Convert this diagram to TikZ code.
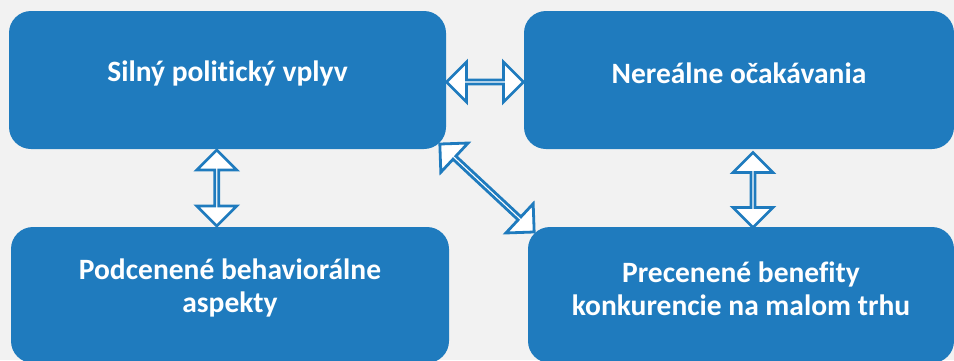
\documentclass[tikz,border=0pt]{standalone}
\usepackage{fontspec}
\setmainfont{Carlito}[Ligatures=NoCommon]
\usepackage{xcolor}
\usetikzlibrary{shapes.arrows,calc}
\definecolor{boxblue}{HTML}{1F7BBE}
\definecolor{bggray}{HTML}{F2F2F2}
\tikzset{
    box/.style={fill=boxblue, rounded corners=22pt},
    boxtext/.style={text=white, align=center, yshift=7pt,
        font=\fontsize{29.5}{33}\selectfont\bfseries},
    dblarrow/.style={double arrow, draw=boxblue, fill=white, line width=2.8pt,
        minimum width=40pt, double arrow head extend=12pt, inner sep=0pt}
}

\begin{document}
\begin{tikzpicture}[x=1pt,y=-1pt]
    % Background and page size
    \fill[bggray] (0,0) rectangle (954,360);
    \useasboundingbox (0,0) rectangle (954,360);
    \clip (0,0) rectangle (954,360);
    % The four boxes
    \node[box, minimum width=437, minimum height=138, label={[boxtext]center:Silný politický vplyv}] (vplyv) at (227.5,80) {};
    \node[box, minimum width=430, minimum height=138, label={[boxtext]center:Nereálne očakávania}] (ocak) at (739,80) {};
    \node[box, minimum width=438, minimum height=136, label={[boxtext]center:{Podcenené behaviorálne\\aspekty}}] (aspekty) at (230,295) {};
    \node[box, minimum width=426, minimum height=136, label={[boxtext, yshift=-1pt]center:{Precenené benefity\\konkurencie na malom trhu}}] (benefity) at (741,295) {};
    % Double arrows between the boxes
    \node[dblarrow, minimum height=77] at ($(vplyv.east)!0.5!(ocak.west)+(0,2)$) {}; % top
    \node[dblarrow, minimum height=76, rotate=90] at ($(vplyv.south)!0.5!(aspekty.north)+(-12,0)$) {}; % left
    \node[dblarrow, minimum height=75, rotate=90] at ($(ocak.south)!0.5!(benefity.north)+(13,2)$) {}; % right
    \node[dblarrow, minimum height=129, rotate=-43] at ($(vplyv.south east)!0.5!(benefity.north west)$) {}; % diagonal
\end{tikzpicture}
\end{document}
